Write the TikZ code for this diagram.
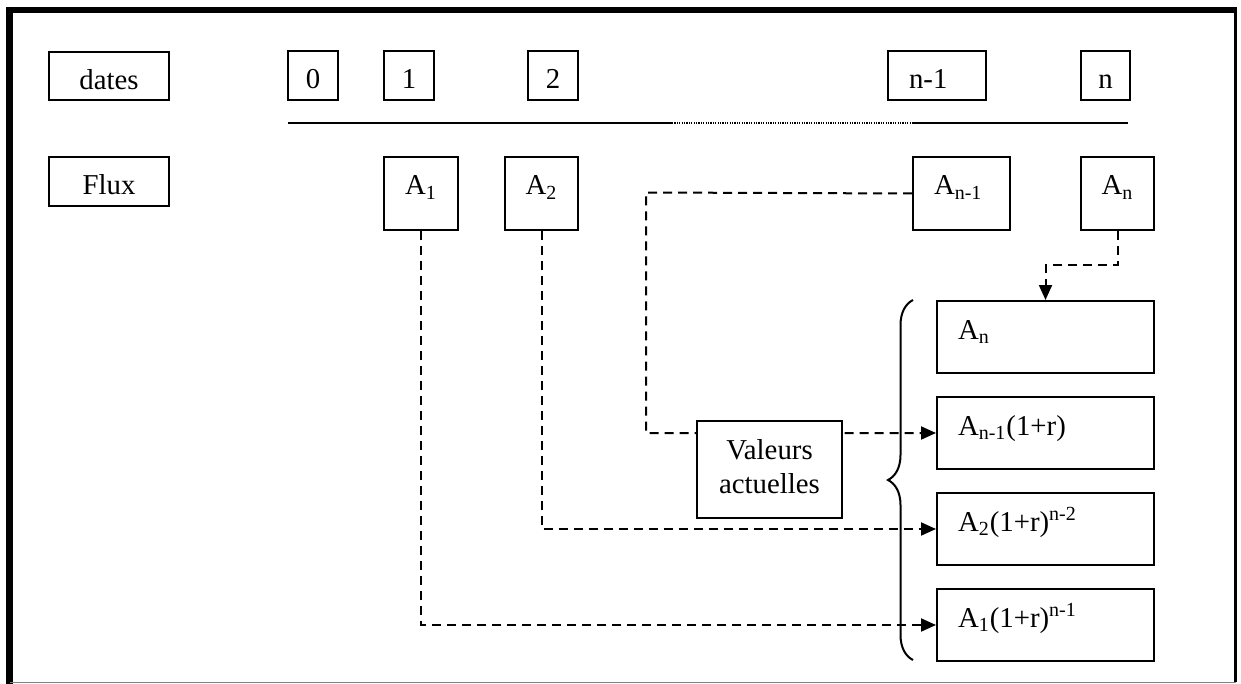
\documentclass[tikz,border=0pt]{standalone}
\usepackage{fontspec}
\setmainfont{Liberation Serif}
\usepackage{tikz}
\usetikzlibrary{arrows.meta, decorations.pathreplacing}
\tikzstyle{block} = [rectangle, draw, line width=1pt, anchor=north west,
    inner sep=0pt, text height=19pt, font=\fontsize{14.4}{17}\selectfont]
\tikzstyle{wide} = [block, inner xsep=10.5pt, text width=87.5pt,
    align=left, text depth=17pt]
\tikzstyle{line} = [draw, line width=1pt, dash pattern=on 4.5pt off 3pt,
    -{Triangle[length=7.5pt, width=6.5pt]}]

\begin{document}
\begin{tikzpicture}[x=0.5pt, y=-0.5pt]
                \useasboundingbox (0,0) rectangle (1241,684);
                % cadre
                \draw [line width=3pt] (6,10) -- (1237,10);
                \draw [line width=3.25pt] (9.5,8.5) -- (9.5,684);
                \draw [line width=1.2pt] (1235.5,10) -- (1235.5,682);
                \draw [gray, line width=0.6pt] (9.5,682.5) -- (1236,682.5);
                % dates
                \node [block, minimum width=60pt, text depth=5pt] at (48,51) (dates) {dates};
                \node [block, minimum width=25pt, text depth=5.5pt] at (287,50) (d0) {0};
                \node [block, minimum width=25pt, text depth=5.5pt] at (383,50) (d1) {1};
                \node [block, minimum width=25pt, text depth=5.5pt] at (527,50) (d2) {2};
                \node [block, inner xsep=10.5pt, text width=28pt, align=left,
                    text depth=5.5pt] at (887,50) (dn1) {n-1};
                \node [block, minimum width=24.5pt, text depth=5.5pt] at (1080,50) (dn) {n};
                % axe
                \coordinate (t0) at (288,123);
                \coordinate (t1) at (672,123);
                \coordinate (t2) at (912,123);
                \coordinate (t3) at (985,123);
                \coordinate (t4) at (1128,123);
                \draw [line width=0.8pt] (t0) -- (t1);
                \draw [line width=0.8pt, dash pattern=on 0.6pt off 0.6pt] (t1) -- (t3);
                \draw [line width=0.8pt] (t2) -- (t4);
                % flux
                \node [block, minimum width=60pt, text depth=5.5pt] at (48,156) (flux) {Flux};
                \node [block, minimum width=37pt, text depth=17.5pt] at (383,156) (a1) {A\textsubscript{1}};
                \node [block, minimum width=36.5pt, text depth=17.5pt] at (504,156) (a2) {A\textsubscript{2}};
                \node [block, inner xsep=10.5pt, text width=27.5pt, align=left,
                    text depth=17.5pt] at (912,156) (an1) {A\textsubscript{n-1}};
                \node [block, minimum width=36.5pt, text depth=17.5pt] at (1080,156) (an) {A\textsubscript{n}};
                % valeurs capitalisees
                \node [wide] at (936,300) (r1) {A\textsubscript{n}};
                \node [wide] at (936,396) (r2) {A\textsubscript{n-1}(1+r)};
                \node [wide] at (936,492) (r3) {A\textsubscript{2}(1+r)\textsuperscript{n-2}};
                \node [wide] at (936,588) (r4) {A\textsubscript{1}(1+r)\textsuperscript{n-1}};
                \draw [line width=1pt, decorate, decoration={brace, amplitude=12.5pt}]
                    (913,660) -- (913,300);
                % fleches
                \coordinate (bend) at (646,192.5);
                \path [line] (a1.south) |- (r4.west);
                \path [line] (a2.south) |- (r3.west);
                \path [line] (an1.west) -- (bend) |- (r2.west);
                \path [line] (an.south) -- ++(0,34) -| (r1.north);
                \node [block, fill=white, text width=72.5pt, align=center,
                    text depth=29.5pt] at (696,420) (va) {Valeurs\\actuelles};
            \end{tikzpicture}
\end{document}
